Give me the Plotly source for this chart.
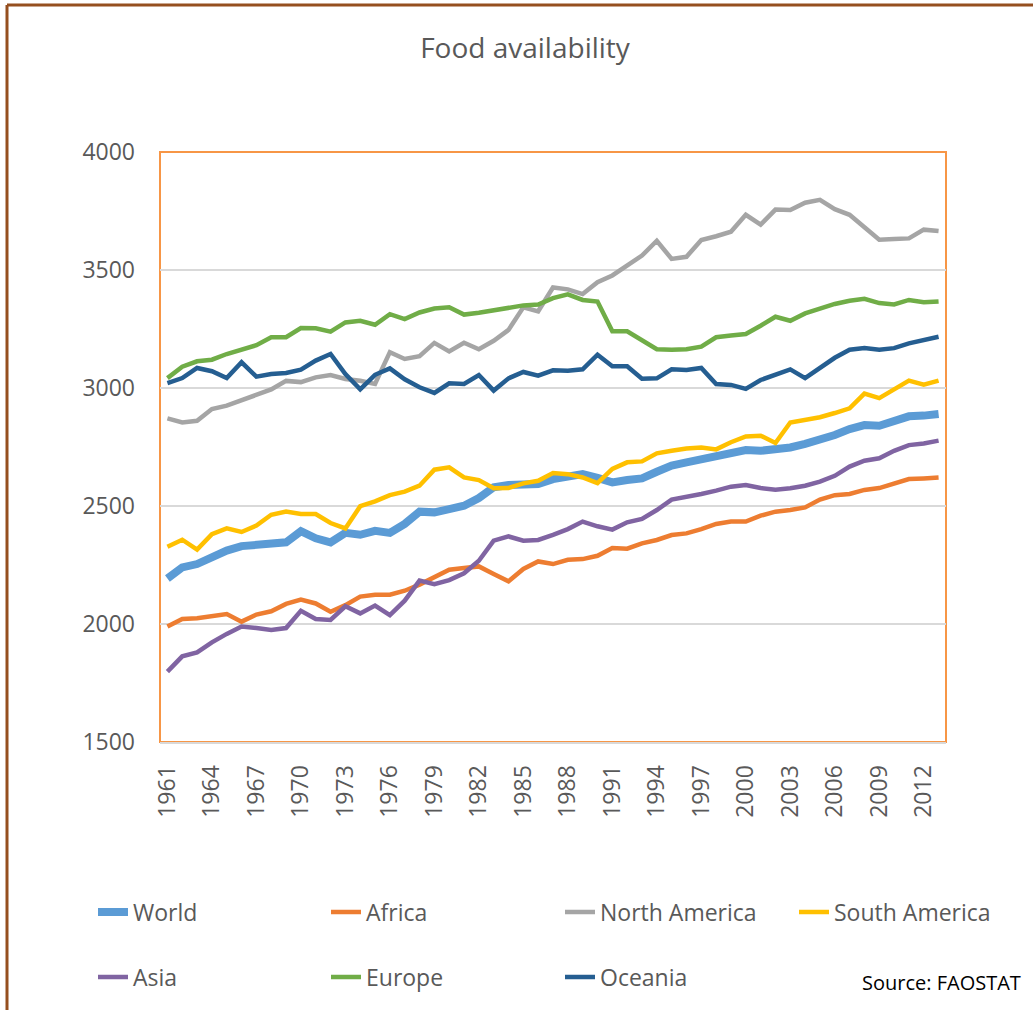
import plotly.graph_objects as go

years = list(range(1961, 2014))

world = [2193, 2240, 2254, 2287, 2311, 2330, 2335, 2339, 2346, 2393,
         2363, 2346, 2386, 2378, 2395, 2386, 2424, 2476, 2473, 2487,
         2501, 2534, 2579, 2589, 2590, 2593, 2614, 2628, 2635, 2619,
         2600, 2610, 2617, 2645, 2671, 2685, 2699, 2713, 2727, 2737,
         2734, 2737, 2748, 2763, 2781, 2801, 2826, 2843, 2840, 2864,
         2880, 2883, 2890]
africa = [1989, 2021, 2024, 2035, 2042, 2010, 2040, 2054, 2085, 2103,
          2087, 2052, 2080, 2116, 2124, 2124, 2141, 2167, 2200, 2230,
          2237, 2244, 2212, 2181, 2233, 2265, 2254, 2272, 2275, 2289,
          2322, 2319, 2342, 2356, 2377, 2384, 2402, 2424, 2434, 2434,
          2459, 2476, 2483, 2494, 2527, 2546, 2551, 2568, 2576, 2596,
          2614, 2617, 2621]
north_america = [2871, 2854, 2861, 2911, 2925, 2949, 2972, 2994, 3030, 3025,
                 3045, 3055, 3038, 3031, 3017, 3152, 3123, 3135, 3191, 3155,
                 3192, 3164, 3200, 3246, 3342, 3325, 3426, 3418, 3398, 3448,
                 3477, 3518, 3561, 3624, 3547, 3556, 3627, 3643, 3662, 3734,
                 3692, 3756, 3754, 3785, 3797, 3758, 3734, 3681, 3628, 3631,
                 3634, 3671, 3665]
south_america = [2327, 2357, 2315, 2381, 2405, 2390, 2417, 2463, 2477, 2466,
                 2466, 2428, 2405, 2499, 2520, 2546, 2561, 2586, 2654, 2664,
                 2621, 2610, 2575, 2576, 2596, 2607, 2640, 2635, 2621, 2597,
                 2657, 2685, 2689, 2723, 2734, 2744, 2748, 2740, 2770, 2795,
                 2798, 2767, 2854, 2866, 2876, 2894, 2914, 2976, 2957, 2994,
                 3031, 3014, 3031]
asia = [1798, 1863, 1880, 1922, 1958, 1989, 1983, 1975, 1983, 2056,
        2021, 2017, 2075, 2045, 2078, 2038, 2099, 2184, 2169, 2186,
        2215, 2268, 2353, 2371, 2353, 2356, 2378, 2402, 2434, 2414,
        2400, 2431, 2445, 2483, 2527, 2537, 2551, 2565, 2582, 2589,
        2576, 2569, 2575, 2586, 2603, 2628, 2667, 2692, 2702, 2734,
        2758, 2765, 2777]
europe = [3042, 3090, 3113, 3120, 3144, 3161, 3181, 3215, 3215, 3254,
          3253, 3239, 3278, 3285, 3268, 3313, 3292, 3320, 3337, 3342,
          3311, 3319, 3328, 3339, 3350, 3354, 3381, 3397, 3373, 3366,
          3240, 3240, 3203, 3164, 3162, 3164, 3175, 3215, 3222, 3229,
          3264, 3302, 3285, 3316, 3336, 3356, 3370, 3378, 3360, 3354,
          3373, 3363, 3367]
oceania = [3021, 3042, 3085, 3071, 3042, 3109, 3048, 3059, 3064, 3078,
           3116, 3144, 3059, 2994, 3056, 3083, 3037, 3003, 2979, 3020,
           3017, 3055, 2989, 3041, 3068, 3052, 3075, 3073, 3079, 3141,
           3092, 3092, 3039, 3041, 3079, 3076, 3085, 3017, 3013, 2996,
           3034, 3059, 3079, 3042, 3087, 3128, 3162, 3169, 3162, 3169,
           3189, 3203, 3217]

series_names = ['World', 'Africa', 'North America', 'South America',
                'Asia', 'Europe', 'Oceania']
series_values = [world, africa, north_america, south_america, asia, europe, oceania]
colors = ['#5B9BD5', '#ED7D31', '#A5A5A5', '#FFC000', '#8064A2', '#70AD47', '#255E91']
widths = [8, 4.5, 4.5, 4.5, 4.5, 4.5, 4.5]

W, H = 1033, 1010
L, R, T, B = 160, 946, 152, 742   # plot area in pixels

# legend text positions (pixels): left edge of text, row centre
legend_pos = [(133, 912), (366, 912), (600, 912), (834, 912),
              (133, 977), (366, 977), (600, 977)]

fig = go.Figure()
for i, (name, vals) in enumerate(zip(series_names, series_values)):
    lg = 'legend' if i == 0 else 'legend%d' % (i + 1)
    fig.add_trace(go.Scatter(x=years, y=vals, mode='lines', name=name,
                             line=dict(color=colors[i], width=widths[i]),
                             legend=lg, showlegend=True))

legends = {}
for i, (px, py) in enumerate(legend_pos):
    key = 'legend' if i == 0 else 'legend%d' % (i + 1)
    legends[key] = dict(xref='container', yref='container',
                        x=(px - 40) / W, y=1 - py / H,
                        xanchor='left', yanchor='middle',
                        bgcolor='rgba(0,0,0,0)',
                        font=dict(family='Open Sans', size=23, color='#595959'))


def px_x(p):
    return (p - L) / (R - L)


def px_y(p):
    return (B - p) / (B - T)


shapes = [
    # orange border round the plot area
    dict(type='rect', xref='paper', yref='paper', x0=0, x1=1, y0=0, y1=1,
         line=dict(color='#F79646', width=2), layer='below'),
    # brown outer frame (left and top edges)
    dict(type='line', xref='paper', yref='paper', x0=px_x(7), x1=px_x(W + 5),
         y0=px_y(5), y1=px_y(5), line=dict(color='#954F1F', width=3)),
    dict(type='line', xref='paper', yref='paper', x0=px_x(7), x1=px_x(7),
         y0=px_y(5), y1=px_y(H + 5), line=dict(color='#954F1F', width=3)),
]

fig.update_layout(
    width=W, height=H,
    showlegend=True,
    margin=dict(l=L, r=W - R, t=T, b=H - B, autoexpand=False),
    paper_bgcolor='white', plot_bgcolor='white',
    title=dict(text='Food availability', x=525 / W, y=1 - 48 / H,
               xref='container', yref='container',
               xanchor='center', yanchor='middle',
               font=dict(family='Open Sans', size=28, color='#595959')),
    xaxis=dict(range=[1960.5, 2013.5], tick0=1961, dtick=3, tickangle=-90,
               showgrid=False, zeroline=False,
               showline=True, linecolor='#D9D9D9', linewidth=2,
               ticks='', ticklabelstandoff=12,
               tickfont=dict(family='Open Sans', size=23, color='#595959')),
    yaxis=dict(range=[1500, 4000], dtick=500, showgrid=True,
               gridcolor='#D9D9D9', gridwidth=2, zeroline=False,
               ticks='', ticklabelstandoff=24,
               tickfont=dict(family='Open Sans', size=23, color='#595959')),
    shapes=shapes,
    annotations=[dict(text='Source: FAOSTAT', xref='paper', yref='paper',
                      x=px_x(1023), y=px_y(983), xanchor='right', yanchor='middle',
                      showarrow=False,
                      font=dict(family='Open Sans', size=20, color='black'))],
    **legends,
)

# the page body carries a default 8px margin; drop it so pixels line up
fig.write_html('out.html', config={'displayModeBar': False},
               post_script="document.body.style.margin='0';")
